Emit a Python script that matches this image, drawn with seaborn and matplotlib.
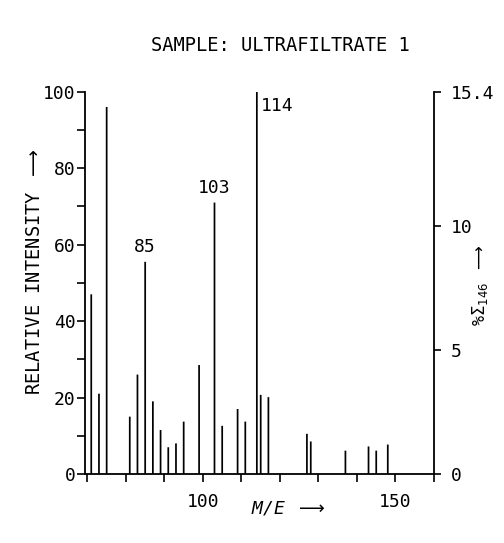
import matplotlib
matplotlib.use("Agg")
import matplotlib.pyplot as plt
import seaborn as sns
import pandas as pd

# ---- data ----
mz = [71, 73, 75, 81, 83, 85, 87, 89, 91, 93, 95, 99, 103, 105, 109, 111,
      114, 115, 117, 127, 128, 137, 143, 145, 148]
rel_intensity = [47, 21, 96, 15, 26, 55.5, 19, 11.5, 7, 8, 13.7, 28.5, 71, 12.6, 17, 13.7,
                 100, 20.7, 20.1, 10.5, 8.5, 6.1, 7.2, 6.1, 7.7]
labelled_peaks = [85, 103, 114]
x_ticks = list(range(70, 161, 10))
x_ticklabels = ["100" if t == 100 else "150" if t == 150 else "" for t in x_ticks]
y_ticks = list(range(0, 101, 10))
y_ticklabels = [str(t) if t % 20 == 0 else "" for t in y_ticks]
right_ticks = [0, 5, 10, 15.4]
right_ticklabels = ["0", "5", "10", "15.4"]
right_max = 15.4
title = "SAMPLE: ULTRAFILTRATE 1"

df = pd.DataFrame({"mz": mz, "rel": rel_intensity})

sns.set_theme(style="ticks")
plt.rcParams["font.family"] = ["DejaVu Sans Mono", "DejaVu Sans"]
plt.rcParams["text.color"] = "black"
plt.rcParams["xtick.color"] = "black"
plt.rcParams["ytick.color"] = "black"
plt.rcParams["axes.edgecolor"] = "black"

fig = plt.figure(figsize=(5.04, 5.43), dpi=100)
ax = fig.add_axes([0.1696, 0.1271, 0.6915, 0.704])

sns.barplot(data=df, x="mz", y="rel", native_scale=True, width=0.45,
            color="black", linewidth=0, ax=ax, errorbar=None, snap=False)

ax.set_xlim(69.5, 160)
ax.set_ylim(0, 100)
ax.set_xticks(x_ticks)
ax.set_xticklabels(x_ticklabels, fontsize=13)
ax.set_yticks(y_ticks)
ax.set_yticklabels(y_ticklabels, fontsize=13)
ax.tick_params(axis="x", direction="out", length=6, width=1.2, pad=8, colors="black")
ax.tick_params(axis="y", direction="out", length=6, width=1.2, pad=1, colors="black")
ax.set_xlabel("")
ax.set_ylabel("")
for s in ["left", "bottom"]:
    ax.spines[s].set_linewidth(1.3)
    ax.spines[s].set_color("black")
ax.spines["top"].set_visible(False)
ax.spines["right"].set_visible(False)

# peak labels
for p in labelled_peaks:
    v = rel_intensity[mz.index(p)]
    if p == 114:
        ax.text(p + 1.0, v - 1.5, str(p), ha="left", va="top", fontsize=13)
    else:
        ax.text(p, v + 1.5, str(p), ha="center", va="bottom", fontsize=13)

# right axis
ax2 = ax.twinx()
ax2.set_ylim(0, right_max)
ax2.set_yticks(right_ticks)
ax2.set_yticklabels(right_ticklabels, fontsize=13)
ax2.tick_params(axis="y", direction="out", length=5, width=1.2, pad=7, colors="black")
ax2.spines["right"].set_linewidth(1.3)
ax2.spines["right"].set_color("black")
for s in ["top", "left", "bottom"]:
    ax2.spines[s].set_visible(False)

fig.text(0.556, 0.917, title, ha="center", va="center", fontsize=13.5)
fig.text(0.069, 0.50, r"RELATIVE INTENSITY $\longrightarrow$", rotation=90,
         ha="center", va="center", fontsize=13.5)
fig.text(0.952, 0.475, r"%$\Sigma_{146}$ $\longrightarrow$", rotation=90,
         ha="center", va="center", fontsize=12)
fig.text(0.571, 0.064, r"M/E $\longrightarrow$", ha="center", va="center",
         fontsize=13, style="italic")

fig.savefig("out.png", dpi=100, facecolor="white")
